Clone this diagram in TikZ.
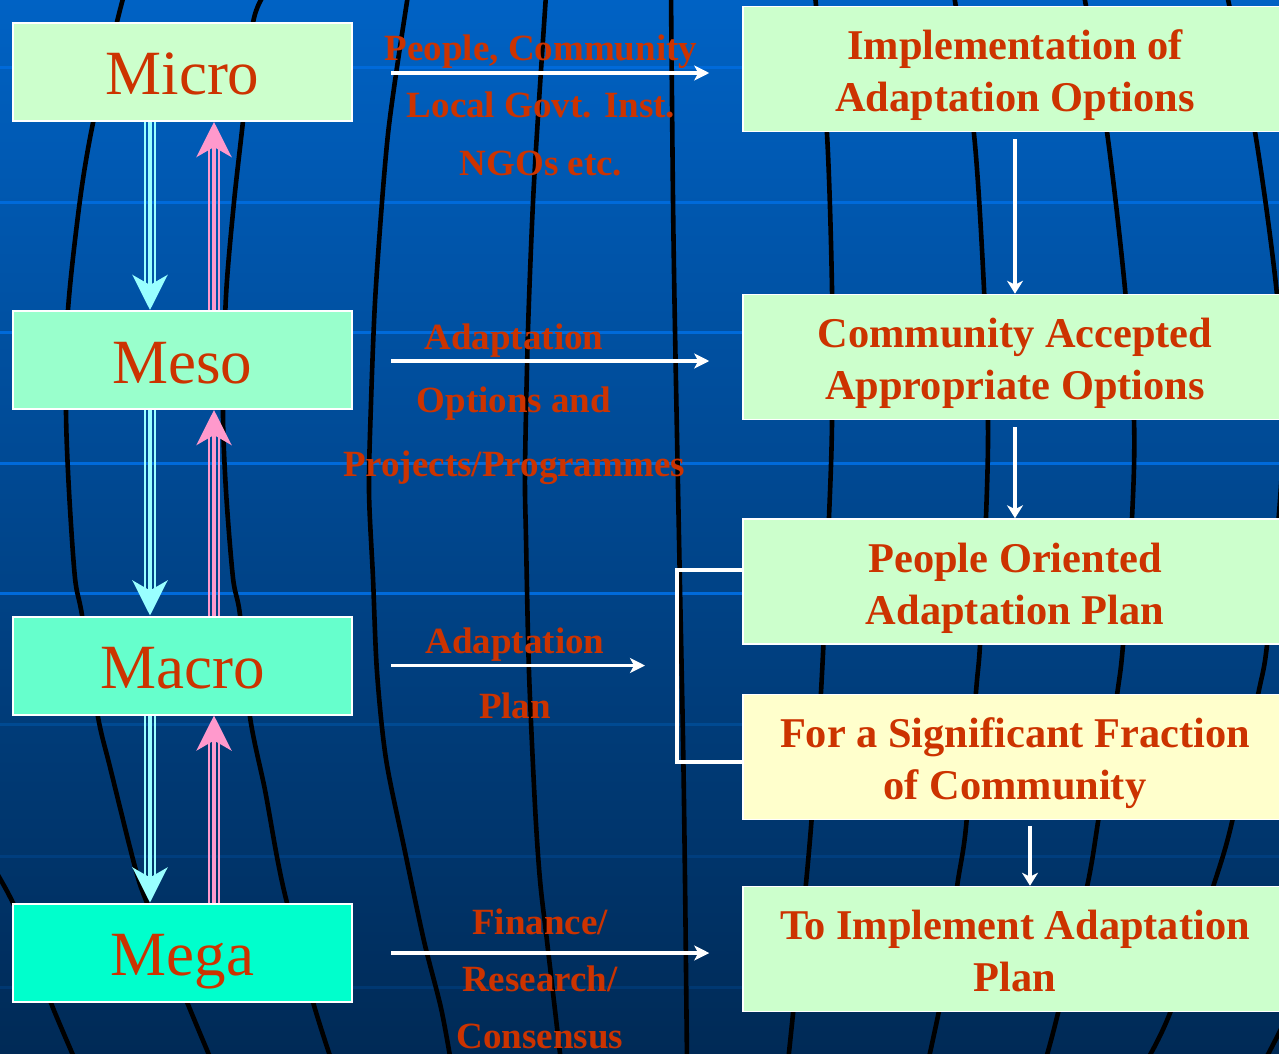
\documentclass[tikz,border=0pt]{standalone}
\usepackage{fontspec}
\setmainfont{Liberation Serif}
\usetikzlibrary{arrows.meta,calc}
\definecolor{txt}{HTML}{CC3300}
\definecolor{bMicro}{HTML}{CCFFCC}
\definecolor{bMeso}{HTML}{99FFCC}
\definecolor{bMacro}{HTML}{66FFCC}
\definecolor{bMega}{HTML}{00FFCC}
\definecolor{rGreen}{HTML}{CCFFCC}
\definecolor{rYellow}{HTML}{FFFFCC}
\definecolor{cyanar}{HTML}{99FFFF}
\definecolor{pinkar}{HTML}{FF99CC}
\definecolor{bgtop}{RGB}{0,98,196}
\definecolor{bgbot}{RGB}{0,42,86}
\definecolor{latA}{RGB}{0,106,218}
\definecolor{latM}{RGB}{0,74,146}
\definecolor{latB}{RGB}{0,62,126}
\definecolor{latC}{RGB}{0,56,114}
\newcommand{\lstrut}{\rule[-14pt]{0pt}{74pt}}
\newcommand{\rstrut}{\rule[-9.5pt]{0pt}{52pt}}
\newcommand{\lbstrut}{\rule[-28pt]{0pt}{56pt}}
\newcommand{\bigfont}{\fontsize{63}{70}\selectfont}
\newcommand{\rfont}{\fontsize{42.4}{52}\selectfont\bfseries\lineskiplimit=-100pt\relax}
\newcommand{\lfont}[1]{\fontsize{37}{#1}\selectfont\bfseries\lineskiplimit=-100pt\relax}
\newcommand{\tarrow}[4]{%
  \draw[#1, line width=2.2pt, shorten >=26pt] ([xshift=#2pt-4.8pt]#3) -- ([xshift=#2pt-4.8pt]#4);
  \draw[#1, line width=2.2pt, shorten >=26pt] ([xshift=#2pt+4.8pt]#3) -- ([xshift=#2pt+4.8pt]#4);
  \draw[#1, line width=4.3pt, -{Stealth[length=35pt,width=35pt,inset=10pt]}] ([xshift=#2pt]#3) -- ([xshift=#2pt]#4);
}
\tikzset{
  lbox/.style={draw=white, line width=2pt, minimum width=339pt, minimum height=98pt, inner sep=0pt, text=txt, font=\bigfont},
  rbox/.style={draw=white, line width=1.5pt, minimum width=544pt, minimum height=125pt, inner sep=0pt, text=txt, align=center, font=\rfont},
  lab/.style={text=txt, align=center, inner sep=0pt},
  harrow/.style={draw=white, line width=3.5pt, -{Stealth[length=15pt,width=15pt,inset=4pt]}},
  varrow/.style={draw=white, line width=4pt, -{Stealth[length=13pt,width=16pt,inset=4pt]}},
  bracket/.style={draw=white, line width=4pt},
  merid/.style={draw=black, line width=4.6pt},
  lat/.style={line width=3pt}
}
\begin{document}
\begin{tikzpicture}[x=1pt,y=-1pt]
\useasboundingbox (0,0) rectangle (1279,1054);
\shade[top color=bgtop, bottom color=bgbot] (0,0) rectangle (1279,1054);
% latitude lines
\foreach \yy in {68,202,332,463,593} \draw[lat, latA] (0,\yy) -- (1279,\yy);
\draw[lat, latM] (0,724) -- (1279,724);
\draw[lat, latB] (0,856) -- (1279,856);
\draw[lat, latC] (0,987) -- (1279,987);
% meridians
\begin{scope}
\clip (0,0) rectangle (1279,1054);
\draw[merid] plot[smooth] coordinates {(-8,865) (13,903) (35,960) (53,1008) (76,1062)};
\draw[merid] plot[smooth] coordinates {(124,-5) (117,22) (93,123) (80,200) (68,310) (66,410) (69,491) (75,578) (82,615) (98,717) (110,767) (135,867) (147,903) (187,1002) (212,1062)};
\draw[merid] plot[smooth] coordinates {(264,-5) (253,23) (243,121) (234,202) (226,296) (223,410) (226,491) (233,578) (240,615) (250,717) (265,790) (277,857) (287,903) (313,1002) (332,1062)};
\draw[merid] plot[smooth] coordinates {(408,-5) (396,74) (388,134) (382,202) (375,302) (371,403) (369,491) (373,578) (377,672) (386,759) (404,847) (424,941) (441,1008) (451,1062)};
\draw[merid] plot[smooth] coordinates {(546,-5) (539,101) (533,202) (528,330) (525,470) (526,538) (529,672) (535,806) (540,880) (547,941) (561,1062)};
\draw[merid] plot[smooth] coordinates {(671,-5) (673,200) (675,330) (679,538) (683,739) (685,880) (687,1062)};
\draw[merid] plot[smooth] coordinates {(815,-5) (827,134) (832,289) (832,423) (829,517) (821,692) (811,827) (805,894) (797,975) (788,1062)};
\draw[merid] plot[smooth] coordinates {(954,-5) (974,134) (984,289) (988,423) (986,517) (980,645) (976,692) (966,827) (957,887) (946,975) (928,1062)};
\draw[merid] plot[smooth] coordinates {(1084,-5) (1107,132) (1125,289) (1134,420) (1132,518) (1123,645) (1117,695) (1098,822) (1087,887) (1058,1013) (1045,1062)};
\draw[merid] plot[smooth] coordinates {(1227,-5) (1255,132) (1277,295) (1283,420) (1280,500) (1267,645) (1258,695) (1232,822) (1213,887) (1170,1013) (1146,1062)};
\draw[merid] plot[smooth] coordinates {(1290,1010) (1279,1033) (1264,1062)};
\end{scope}
% left boxes
\node[lbox, fill=bMicro] (micro) at (182.5,72) {\lstrut Micro};
\node[lbox, fill=bMeso] (meso) at (182.5,360) {\lstrut Meso};
\node[lbox, fill=bMacro] (macro) at (182.5,665.5) {\lstrut Macro};
\node[lbox, fill=bMega] (mega) at (182.5,952.5) {\lstrut Mega};
% right boxes
\node[rbox, fill=rGreen] (r1) at (1015,69) {\rstrut Implementation of\\\rstrut Adaptation Options};
\node[rbox, fill=rGreen] (r2) at (1015,357) {\rstrut Community Accepted\\\rstrut Appropriate Options};
\node[rbox, fill=rGreen] (r3) at (1015,581.5) {\rstrut People Oriented\\\rstrut Adaptation Plan};
\node[rbox, fill=rYellow] (r4) at (1015,757) {\rstrut For a Significant Fraction\\\rstrut of Community};
\node[rbox, fill=rGreen] (r5) at (1015,949) {\rstrut To Implement Adaptation\\\rstrut Plan};
% labels
\node[lab, font={\lfont{57.3}}] (l1) at (541,117.75) {\lbstrut People, Community\\\lbstrut Local Govt. Inst.\\\lbstrut NGOs etc.};
\node[lab, font={\lfont{63.25}}] (l2) at (514,412.75) {\lbstrut Adaptation\\\lbstrut Options and\\\lbstrut Projects/Programmes};
\node[lab, font={\lfont{65}}] (l3) at (515,685.5) {\lbstrut Adaptation\\\lbstrut Plan};
\node[lab, font={\lfont{57.3}}] (l4) at (540,991.3) {\lbstrut Finance/\\\lbstrut Research/\\\lbstrut Consensus};
% horizontal arrows
\coordinate (m3end) at (645,665.5);
\draw[harrow] ($(micro.east)+(38,1)$) -- ($(r1.west |- micro.east)+(-33,1)$);
\draw[harrow] ($(meso.east)+(38,1)$) -- ($(r2.west |- meso.east)+(-33,1)$);
\draw[harrow] ($(macro.east)+(38,0)$) -- (m3end);
\draw[harrow] ($(mega.east)+(38,0.5)$) -- ($(r5.west |- mega.east)+(-33,0.5)$);
% right vertical arrows
\draw[varrow] ($(r1.south)+(0,7)$) -- (r2.north);
\draw[varrow] ($(r2.south)+(0,7)$) -- (r3.north);
\draw[varrow] ($(r4.south)+(15,6)$) -- ($(r5.north)+(15,0)$);
% bracket
\draw[bracket] ($(r3.west)+(0,-11.5)$) -| ($(r4.west)+(-65,5)$) -- ($(r4.west)+(0,5)$);
% triple arrows
\tarrow{cyanar}{-32.5}{micro.south}{meso.north}
\tarrow{cyanar}{-32.5}{meso.south}{macro.north}
\tarrow{cyanar}{-32.5}{macro.south}{mega.north}
\tarrow{pinkar}{31.5}{meso.north}{micro.south}
\tarrow{pinkar}{31.5}{macro.north}{meso.south}
\tarrow{pinkar}{31.5}{mega.north}{macro.south}
\end{tikzpicture}
\end{document}
